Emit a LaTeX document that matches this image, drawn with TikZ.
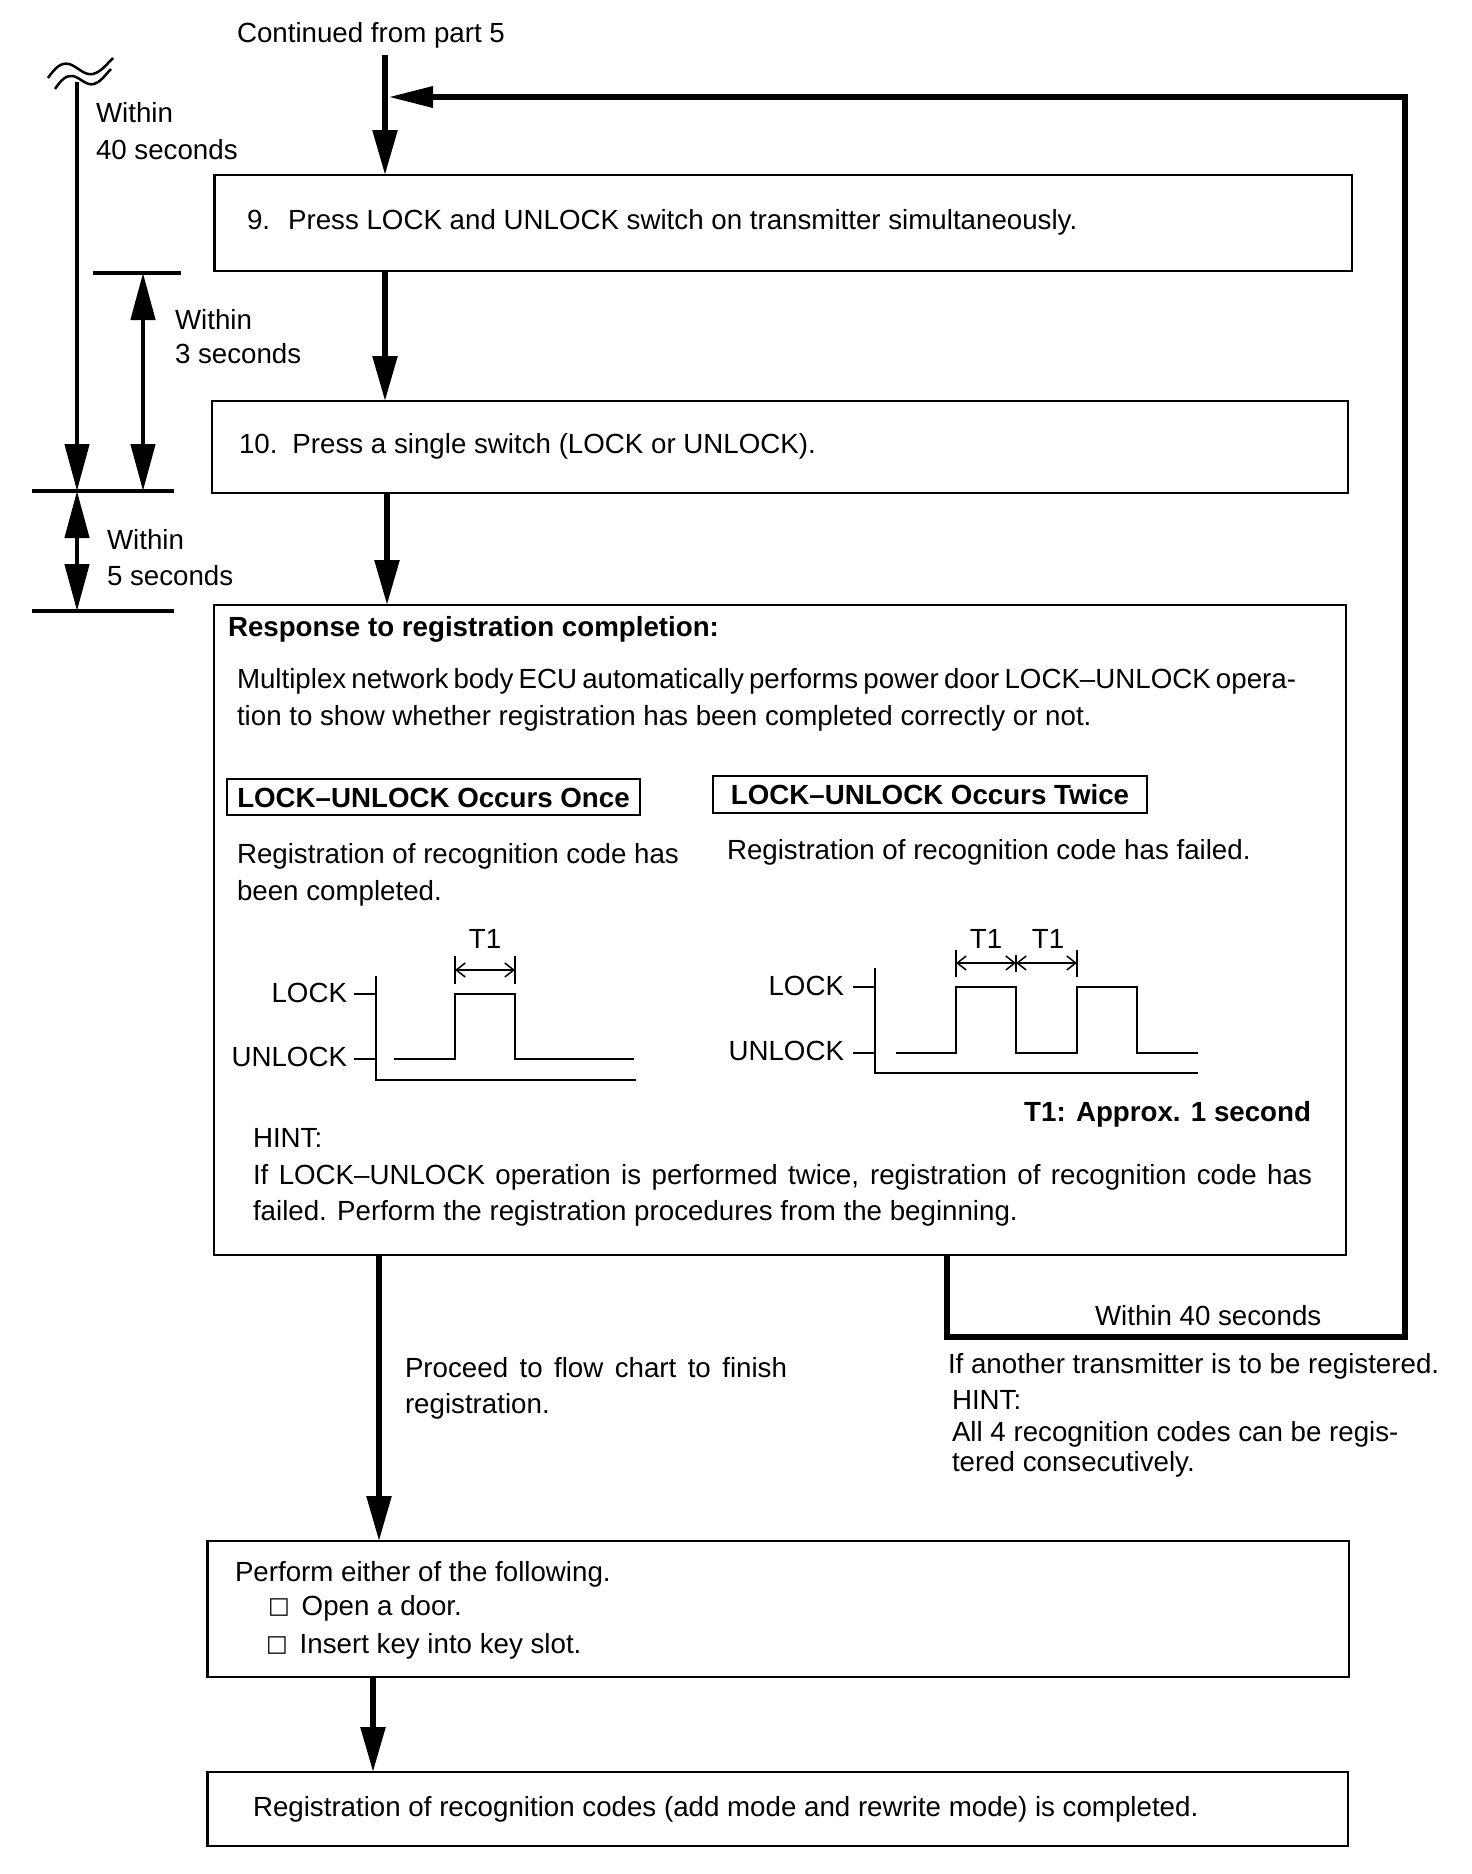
\documentclass[tikz,border=0pt]{standalone}
\usepackage{fontspec}
\setmainfont{Liberation Sans}
\newfontfamily\symfont{DejaVu Sans}
\usetikzlibrary{arrows.meta}
\begin{document}
\begin{tikzpicture}[x=1pt,y=-1pt,
  every node/.style={font=\fontsize{27.7}{33}\selectfont, inner sep=0pt, outer sep=0pt},
  box/.style={draw, line width=2.3pt, anchor=north west},
  lbl/.style={draw, line width=2pt, anchor=center, text height=20pt, text depth=0pt, font=\fontsize{27.7}{33}\selectfont\bfseries},
  txt/.style={anchor=base west},
  bigarrow/.style={line width=5.5pt, -{Triangle[width=24pt,length=45pt]}},
  looparrow/.style={line width=6.5pt, line join=miter, -{Triangle[width=20pt,length=45pt]}},
  brk/.style={line width=4.5pt},
  brkhead/.tip={Triangle[width=24pt,length=47pt]},
  brkline/.style={line width=3.5pt},
  sig/.style={line width=2pt},
  dim/.style={line width=1.5pt, {Straight Barb[length=9pt,width=14pt]}-{Straight Barb[length=9pt,width=14pt]}},
  tick/.style={line width=2pt}
]
\fill[white] (0,0) rectangle (1472,1874);
\useasboundingbox (0,0) rectangle (1472,1874);

% ---------- boxes ----------
\node[box, minimum width=1137.5pt, minimum height=96pt] (b9) at (214.5,175) {};
\node[box, minimum width=1136pt, minimum height=92pt] (b10) at (212,401) {};
\node[box, minimum width=1132pt, minimum height=650pt] (resp) at (214,605) {};
\node[box, minimum width=1141.5pt, minimum height=136pt] (perf) at (207.5,1541) {};
\node[box, minimum width=1140.5pt, minimum height=74pt] (fin) at (207.5,1772) {};

% ---------- box texts ----------
\node[txt] (cont) at (237,42) {Continued from part 5};
\node[txt] (t9) at (247,229) {9.\hspace{18pt}Press LOCK and UNLOCK switch on transmitter simultaneously.};
\node[txt] (t10) at (239,453) {10.\hspace{15pt}Press a single switch (LOCK or UNLOCK).};

\node[txt, font=\fontsize{27.7}{33}\selectfont\bfseries] (rhead) at (228,636) {Response to registration completion:};
\node[txt] (m1) at (237,688) {\makebox[1048pt][s]{Multiplex network body ECU automatically performs power door LOCK–UNLOCK opera-}};
\node[txt] (m2) at (237,725) {tion to show whether registration has been completed correctly or not.};

\node[lbl, minimum width=413pt, minimum height=36pt] (once) at (433.5,797) {LOCK–UNLOCK Occurs Once};
\node[lbl, minimum width=434pt, minimum height=37pt] (twice) at (930,794.5) {LOCK–UNLOCK Occurs Twice};

\node[txt] (o1) at (237,863) {Registration of recognition code has};
\node[txt] (o2) at (237,900) {been completed.};
\node[txt] (w1) at (727,859) {Registration of recognition code has failed.};

% ---------- graph 1 ----------
\draw[sig] (375.5,976) -- (375.5,1080) -- (636,1080);
\draw[tick] (354,994) -- (375.5,994);
\draw[tick] (354,1059) -- (375.5,1059);
\draw[sig] (394,1059) -- (455,1059) -- (455,994) -- (515,994) -- (515,1059) -- (634,1059);
\draw[tick] (455,956) -- (455,984);
\draw[tick] (515,956) -- (515,984);
\draw[dim] (455,970) -- (515,970);
\node[anchor=base] (g1t) at (485,948) {T1};
\node[anchor=base east] (g1l) at (347,1002) {LOCK};
\node[anchor=base east] (g1u) at (347,1066) {UNLOCK};

% ---------- graph 2 ----------
\draw[sig] (875,968) -- (875,1073) -- (1198,1073);
\draw[tick] (853,987) -- (875,987);
\draw[tick] (853,1053) -- (875,1053);
\draw[sig] (896,1053) -- (956,1053) -- (956,987) -- (1016,987) -- (1016,1053) -- (1077,1053) -- (1077,987) -- (1137,987) -- (1137,1053) -- (1198,1053);
\draw[tick] (956,950) -- (956,977);
\draw[tick] (1016,955) -- (1016,972);
\draw[tick] (1077,950) -- (1077,977);
\draw[dim] (956,963) -- (1016,963);
\draw[dim] (1016,963) -- (1077,963);
\node[anchor=base] (g2t1) at (986,948) {T1};
\node[anchor=base] (g2t2) at (1048,948) {T1};
\node[anchor=base east] (g2l) at (844,995) {LOCK};
\node[anchor=base east] (g2u) at (844,1060) {UNLOCK};

\node[anchor=base east, font=\fontsize{27.7}{33}\selectfont\bfseries] (t1note) at (1311,1121) {T1: Approx. 1 second};

\node[txt] (h1) at (253,1147) {HINT:};
\node[txt] (h2) at (253,1184) {\makebox[1059pt][s]{If LOCK–UNLOCK operation is performed twice, registration of recognition code has}};
\node[txt] (h3) at (253,1220) {failed. Perform the registration procedures from the beginning.};

% ---------- lower texts ----------
\node[txt] (p1) at (405,1377) {\makebox[382pt][s]{Proceed to flow chart to finish}};
\node[txt] (p2) at (405,1413) {registration.};

\node[txt] (w40) at (1095,1325) {Within 40 seconds};
\node[txt] (a1) at (948,1373) {If another transmitter is to be registered.};
\node[txt] (a2) at (952,1409) {HINT:};
\node[txt] (a3) at (952,1441) {All 4 recognition codes can be regis-};
\node[txt] (a4) at (952,1471) {tered consecutively.};

\node[txt] (f1) at (235,1581) {Perform either of the following.};
\node[txt] (f2) at (268,1615) {\raisebox{1.5pt}{\symfont\fontsize{23}{26}\selectfont □}\hspace{12pt}Open a door.};
\node[txt] (f3) at (266,1653) {\raisebox{1.5pt}{\symfont\fontsize{23}{26}\selectfont □}\hspace{12pt}Insert key into key slot.};

\node[txt] (z1) at (253,1816) {Registration of recognition codes (add mode and rewrite mode) is completed.};

% ---------- time labels ----------
\node[txt] (w40a) at (96,122) {Within};
\node[txt] (w40b) at (96,159) {40 seconds};
\node[txt] (w3a) at (175,329) {Within};
\node[txt] (w3b) at (175,363) {3 seconds};
\node[txt] (w5a) at (107,549) {Within};
\node[txt] (w5b) at (107,585) {5 seconds};

% ---------- main flow arrows ----------
\coordinate (cstart) at (385,55);
\coordinate (c2) at (387,0);
\coordinate (c3) at (379,0);
\coordinate (c4) at (373,0);
\draw[bigarrow] (cstart) -- (cstart |- b9.north);
\draw[bigarrow] (b9.south -| cstart) -- (b10.north -| cstart);
\draw[bigarrow] (b10.south -| c2) -- (resp.north -| c2);
\draw[bigarrow] (resp.south -| c3) -- (perf.north -| c3);
\draw[bigarrow] (perf.south -| c4) -- (fin.north -| c4);

% ---------- loop back ----------
\coordinate (fbx) at (947,0);
\coordinate (loopbr) at (1405,1337);
\coordinate (looptop) at (1405,97);
\coordinate (loopend) at (388,97);
\draw[looparrow] (resp.south -| fbx) |- (loopbr) -- (looptop) -- (loopend);

% ---------- left time brackets ----------
\coordinate (l40top) at (77,82);
\coordinate (lmid) at (77,491);
\coordinate (l5bot) at (77,611);
\coordinate (l3top) at (143,273);
\coordinate (l3bot) at (143,491);
\draw[brk, -{brkhead}] (l40top) -- (lmid);
\draw[brk, {brkhead}-{brkhead}] (lmid) -- (l5bot);
\draw[brk, {brkhead}-{brkhead}] (l3top) -- (l3bot);
\draw[brkline] (32,491) -- (174,491);
\draw[brkline] (32,611) -- (174,611);
\draw[brkline] (93,273) -- (181,273);
% break mark
\draw[line width=2.5pt] (48,78) .. controls (55,68) and (61,62) .. (69,64) .. controls (77,66) and (84,76) .. (93,74) .. controls (101,72) and (107,64) .. (113,58);
\draw[line width=2.5pt] (55,89) .. controls (61,80) and (66,75) .. (73,76) .. controls (81,78) and (86,86) .. (94,84) .. controls (101,82) and (105,75) .. (111,69);
\end{tikzpicture}
\end{document}
